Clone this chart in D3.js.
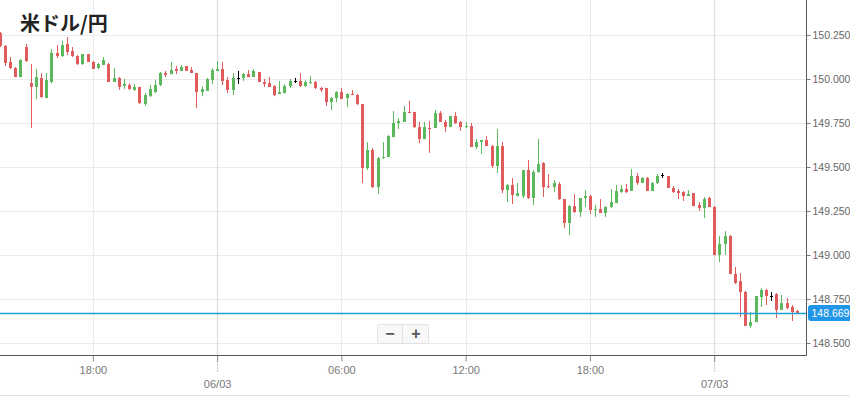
<!DOCTYPE html>
<html>
<head>
<meta charset="utf-8">
<script src="https://cdn.jsdelivr.net/npm/d3@7"></script>
<style>
  body { margin: 0; background: #fff; }
  svg { display: block; font-family: "Liberation Sans", Arial, sans-serif; }
</style>
</head>
<body>
<div id="chart"></div>
<script>
// USD/JPY 15 minute candles, 05/03 13:30 -> 07/03 04:00
const title = "米ドル/円";
const startTime = new Date(2024, 2, 5, 13, 30);
const stepMinutes = 15;
const lastPrice = 148.669;

const opens = [
  150.261, 150.188, 150.097, 150.063, 150.011, 150.182, 149.977, 149.955, 150.006, 149.892,
  149.983, 150.148, 150.131, 150.199, 150.159, 150.131, 150.085, 150.142, 150.097, 150.063,
  150.080, 150.085, 149.983, 150.006, 149.960, 149.966, 149.938, 149.955, 149.858, 149.903,
  149.926, 149.966, 150.034, 150.028, 150.057, 150.046, 150.074, 150.051, 150.034, 149.926,
  149.932, 149.994, 150.046, 150.057, 149.994, 149.938, 150.006, 150.006, 150.028, 150.011,
  150.040, 149.983, 149.977, 149.960, 149.915, 149.920, 149.960, 149.989, 149.989, 149.960,
  149.977, 149.983, 149.949, 149.949, 149.869, 149.892, 149.926, 149.892, 149.915, 149.909,
  149.858, 149.494, 149.597, 149.386, 149.551, 149.557, 149.670, 149.750, 149.756, 149.813,
  149.813, 149.727, 149.659, 149.722, 149.722, 149.807, 149.756, 149.727, 149.790, 149.756,
  149.727, 149.733, 149.614, 149.642, 149.653, 149.619, 149.506, 149.619, 149.369, 149.398,
  149.335, 149.335, 149.483, 149.324, 149.472, 149.523, 149.392, 149.386, 149.403, 149.318,
  149.182, 149.278, 149.244, 149.324, 149.335, 149.256, 149.261, 149.239, 149.273, 149.295,
  149.358, 149.375, 149.364, 149.449, 149.409, 149.438, 149.364, 149.409, 149.455, 149.449,
  149.381, 149.364, 149.358, 149.335, 149.352, 149.284, 149.267, 149.324, 149.273, 149.000,
  149.063, 149.108, 148.892, 148.852, 148.790, 148.597, 148.619, 148.761, 148.801, 148.767,
  148.778, 148.688, 148.727, 148.705, 148.682
];
const highs = [
  150.267, 150.193, 150.125, 150.068, 150.114, 150.199, 150.085, 150.057, 150.034, 150.034,
  150.171, 150.193, 150.216, 150.239, 150.182, 150.136, 150.142, 150.142, 150.102, 150.091,
  150.125, 150.091, 150.063, 150.011, 150.000, 149.977, 149.972, 149.955, 149.920, 149.966,
  149.994, 150.040, 150.046, 150.097, 150.074, 150.080, 150.074, 150.068, 150.034, 149.960,
  150.006, 150.063, 150.102, 150.097, 150.011, 150.034, 150.046, 150.034, 150.051, 150.057,
  150.040, 150.000, 150.011, 149.966, 149.989, 149.972, 150.000, 150.006, 150.034, 149.994,
  150.017, 149.989, 149.955, 149.949, 149.898, 149.932, 149.949, 149.920, 149.938, 149.915,
  149.858, 149.642, 149.608, 149.557, 149.642, 149.682, 149.818, 149.778, 149.847, 149.875,
  149.813, 149.756, 149.756, 149.761, 149.824, 149.818, 149.767, 149.790, 149.813, 149.761,
  149.756, 149.750, 149.659, 149.653, 149.676, 149.625, 149.716, 149.642, 149.403, 149.438,
  149.409, 149.483, 149.540, 149.483, 149.659, 149.528, 149.460, 149.426, 149.415, 149.318,
  149.284, 149.347, 149.324, 149.369, 149.341, 149.284, 149.318, 149.278, 149.375, 149.398,
  149.398, 149.403, 149.489, 149.466, 149.443, 149.443, 149.415, 149.460, 149.466, 149.449,
  149.392, 149.375, 149.364, 149.369, 149.352, 149.301, 149.330, 149.330, 149.278, 149.108,
  149.136, 149.114, 148.932, 148.898, 148.796, 148.676, 148.767, 148.813, 148.807, 148.790,
  148.784, 148.773, 148.756, 148.716, 148.688
];
const lows = [
  150.182, 150.074, 150.057, 150.011, 150.011, 150.097, 149.722, 149.886, 149.892, 149.892,
  149.977, 150.119, 150.125, 150.136, 150.125, 150.080, 150.080, 150.097, 150.057, 150.057,
  150.080, 149.983, 149.983, 149.938, 149.943, 149.938, 149.932, 149.858, 149.847, 149.898,
  149.920, 149.960, 150.011, 150.028, 150.028, 150.046, 150.046, 150.034, 149.835, 149.903,
  149.932, 149.972, 150.046, 149.966, 149.920, 149.909, 149.972, 149.989, 150.011, 150.011,
  149.983, 149.955, 149.955, 149.903, 149.915, 149.920, 149.949, 149.977, 149.955, 149.955,
  149.972, 149.943, 149.926, 149.847, 149.824, 149.869, 149.886, 149.841, 149.909, 149.852,
  149.409, 149.483, 149.381, 149.347, 149.545, 149.557, 149.670, 149.716, 149.756, 149.807,
  149.722, 149.636, 149.659, 149.580, 149.722, 149.756, 149.699, 149.727, 149.744, 149.705,
  149.722, 149.614, 149.602, 149.574, 149.619, 149.494, 149.466, 149.352, 149.301, 149.290,
  149.335, 149.324, 149.318, 149.284, 149.466, 149.330, 149.381, 149.358, 149.313, 149.153,
  149.114, 149.239, 149.216, 149.273, 149.233, 149.216, 149.239, 149.216, 149.267, 149.295,
  149.352, 149.352, 149.364, 149.398, 149.409, 149.364, 149.364, 149.403, 149.438, 149.381,
  149.352, 149.318, 149.307, 149.335, 149.278, 149.250, 149.210, 149.273, 149.000, 148.960,
  149.000, 148.892, 148.835, 148.648, 148.597, 148.585, 148.619, 148.705, 148.716, 148.739,
  148.642, 148.688, 148.693, 148.625, 148.669
];
const closes = [
  150.188, 150.091, 150.063, 150.011, 150.108, 150.102, 149.955, 150.011, 149.898, 149.994,
  150.148, 150.131, 150.193, 150.154, 150.131, 150.085, 150.142, 150.097, 150.057, 150.085,
  150.108, 149.983, 150.006, 149.955, 149.972, 149.943, 149.955, 149.864, 149.909, 149.943,
  149.966, 150.034, 150.023, 150.051, 150.046, 150.068, 150.046, 150.034, 149.926, 149.943,
  150.000, 150.051, 150.057, 149.989, 149.938, 150.006, 150.006, 150.028, 150.011, 150.046,
  149.983, 149.972, 149.955, 149.909, 149.926, 149.960, 149.989, 149.989, 149.960, 149.983,
  149.983, 149.949, 149.938, 149.869, 149.892, 149.926, 149.886, 149.915, 149.909, 149.858,
  149.494, 149.597, 149.386, 149.551, 149.557, 149.676, 149.750, 149.761, 149.813, 149.807,
  149.727, 149.659, 149.727, 149.716, 149.807, 149.756, 149.727, 149.790, 149.750, 149.727,
  149.733, 149.614, 149.642, 149.653, 149.619, 149.506, 149.619, 149.369, 149.398, 149.341,
  149.352, 149.483, 149.324, 149.472, 149.517, 149.386, 149.386, 149.409, 149.318, 149.182,
  149.278, 149.244, 149.324, 149.335, 149.256, 149.261, 149.239, 149.273, 149.301, 149.364,
  149.375, 149.358, 149.449, 149.409, 149.438, 149.364, 149.409, 149.449, 149.455, 149.381,
  149.358, 149.352, 149.335, 149.347, 149.278, 149.267, 149.318, 149.273, 149.000, 149.063,
  149.108, 148.892, 148.841, 148.790, 148.597, 148.619, 148.767, 148.801, 148.767, 148.767,
  148.688, 148.727, 148.699, 148.676, 148.669
];

const priceTicks = [148.5, 148.75, 149.0, 149.25, 149.5, 149.75, 150.0, 150.25];
const timeTicks = [
  new Date(2024, 2, 5, 18), new Date(2024, 2, 6, 0), new Date(2024, 2, 6, 6),
  new Date(2024, 2, 6, 12), new Date(2024, 2, 6, 18), new Date(2024, 2, 7, 0)
];

const w = 850;
const h = 396;
const plotW = 806;
const plotH = 355;
const upColor = "#5cb85c";
const downColor = "#e05b5b";
const labelFont = "'Liberation Sans', Arial, sans-serif";

const candles = opens.map((o, i) => ({
  t: d3.timeMinute.offset(startTime, i * stepMinutes),
  o: o, h: highs[i], l: lows[i], c: closes[i]
}));

const svg = d3.select("#chart").append("svg")
  .attr("width", w)
  .attr("height", h);

const xScale = d3.scaleTime()
  .domain([new Date(2024, 2, 5, 13, 31), new Date(2024, 2, 7, 4, 26)])
  .range([0, plotW]);
const yScale = d3.scaleLinear()
  .domain([148.432, 150.449])
  .range([plotH, 0]);

svg.append("defs").append("clipPath")
  .attr("id", "plotClip")
  .append("rect")
  .attr("width", plotW)
  .attr("height", plotH);

// grid
const grid = svg.append("g");
grid.selectAll(".hgrid")
  .data(priceTicks)
  .enter().append("line")
  .attr("x1", 0)
  .attr("x2", plotW)
  .attr("y1", d => Math.round(yScale(d)) + 0.5)
  .attr("y2", d => Math.round(yScale(d)) + 0.5)
  .attr("stroke", "#ebebeb");
grid.selectAll(".vgrid")
  .data(timeTicks)
  .enter().append("line")
  .attr("x1", d => Math.round(xScale(d)) + 0.5)
  .attr("x2", d => Math.round(xScale(d)) + 0.5)
  .attr("y1", 0)
  .attr("y2", plotH)
  .attr("stroke", d => d.getHours() === 0 ? "#dcdcdc" : "#ebebeb")
  .attr("stroke-width", d => d.getHours() === 0 ? 1.3 : 1);

// title
svg.append("text")
  .attr("x", 20)
  .attr("y", 31)
  .attr("font-family", "'Noto Sans CJK JP', sans-serif")
  .attr("font-size", 20)
  .attr("font-weight", "bold")
  .attr("fill", "#222")
  .text(title);

// candles
const plot = svg.append("g").attr("clip-path", "url(#plotClip)");
const candle = plot.selectAll(".candle")
  .data(candles)
  .enter().append("g")
  .attr("class", "candle")
  .attr("fill", d => d.c > d.o ? upColor : d.c < d.o ? downColor : "#000")
  .attr("stroke", d => d.c > d.o ? upColor : d.c < d.o ? downColor : "#000");

candle.append("line")
  .attr("x1", d => Math.round(xScale(d.t)) + 0.5)
  .attr("x2", d => Math.round(xScale(d.t)) + 0.5)
  .attr("y1", d => yScale(d.h))
  .attr("y2", d => yScale(d.l))
  .attr("stroke-width", 1);

candle.append("rect")
  .attr("x", d => Math.round(xScale(d.t)) - 1)
  .attr("y", d => yScale(Math.max(d.o, d.c)))
  .attr("width", 3)
  .attr("height", d => Math.max(1, Math.abs(yScale(d.o) - yScale(d.c))))
  .attr("stroke", "none");

// current price line
const py = Math.round(yScale(lastPrice)) + 0.5;
svg.append("rect")
  .attr("x", 0)
  .attr("y", py - 0.75)
  .attr("width", plotW)
  .attr("height", 1.5)
  .attr("fill", "#1f9fd6");

// axes
const yAxis = svg.append("g")
  .attr("transform", "translate(" + (plotW + 0.5) + ",0)")
  .call(d3.axisRight(yScale).tickValues(priceTicks).tickFormat(d3.format(".3f")).tickSize(4).tickPadding(2));
yAxis.select(".domain").attr("stroke", "#555").attr("d", "M0,0V" + (plotH + 0.5));
yAxis.selectAll(".tick line").attr("stroke", "#777");
yAxis.selectAll(".tick text")
  .attr("fill", "#666")
  .attr("font-size", 10.5)
  .attr("font-family", labelFont);

const xAxis = svg.append("g")
  .attr("transform", "translate(0," + (plotH + 0.5) + ")")
  .call(d3.axisBottom(xScale).tickValues(timeTicks)
    .tickFormat(d => d.getHours() === 0 ? "" : d3.timeFormat("%H:%M")(d))
    .tickSize(6).tickPadding(5));
xAxis.select(".domain").attr("stroke", "#555").attr("d", "M0,0H" + (plotW + 0.5));
xAxis.selectAll(".tick line").attr("stroke", "#888");
xAxis.selectAll(".tick text")
  .attr("fill", "#777")
  .attr("font-size", 11)
  .attr("font-family", labelFont);

const dayTicks = xAxis.selectAll(".tick").filter(d => d.getHours() === 0);
dayTicks.append("line")
  .attr("y1", 6)
  .attr("y2", 18)
  .attr("stroke", "#888")
  .attr("stroke-dasharray", "1,2");
dayTicks.append("text")
  .attr("y", 32)
  .attr("fill", "#777")
  .attr("font-size", 11)
  .attr("font-family", labelFont)
  .attr("text-anchor", "middle")
  .text(d => d3.timeFormat("%d/%m")(d));

// price label
const label = svg.append("g").attr("transform", "translate(808," + (py - 8.5) + ")");
label.append("rect")
  .attr("width", 44)
  .attr("height", 16)
  .attr("rx", 3)
  .attr("fill", "#2196e8");
label.append("text")
  .attr("x", 3.5)
  .attr("y", 12)
  .attr("fill", "#fff")
  .attr("font-size", 10.5)
  .attr("font-family", labelFont)
  .text(d3.format(".3f")(lastPrice));

// zoom buttons
const zoomBox = svg.append("g").attr("transform", "translate(377,324)");
zoomBox.append("rect")
  .attr("x", 0.5)
  .attr("y", 0.5)
  .attr("width", 51)
  .attr("height", 19)
  .attr("rx", 2)
  .attr("fill", "#f8f8f8")
  .attr("stroke", "#e2e2e2");
zoomBox.append("line")
  .attr("x1", 25.5).attr("x2", 25.5)
  .attr("y1", 1).attr("y2", 19)
  .attr("stroke", "#e2e2e2");
zoomBox.selectAll(".btn")
  .data(["−", "+"])
  .enter().append("text")
  .attr("x", (d, i) => i === 0 ? 13 : 39)
  .attr("y", 15)
  .attr("text-anchor", "middle")
  .attr("font-size", 16)
  .attr("font-weight", "bold")
  .attr("fill", "#555")
  .text(d => d);

// bottom border
svg.append("line")
  .attr("x1", 0).attr("x2", w)
  .attr("y1", 395.5).attr("y2", 395.5)
  .attr("stroke", "#e3e3e3");
</script>
</body>
</html>
